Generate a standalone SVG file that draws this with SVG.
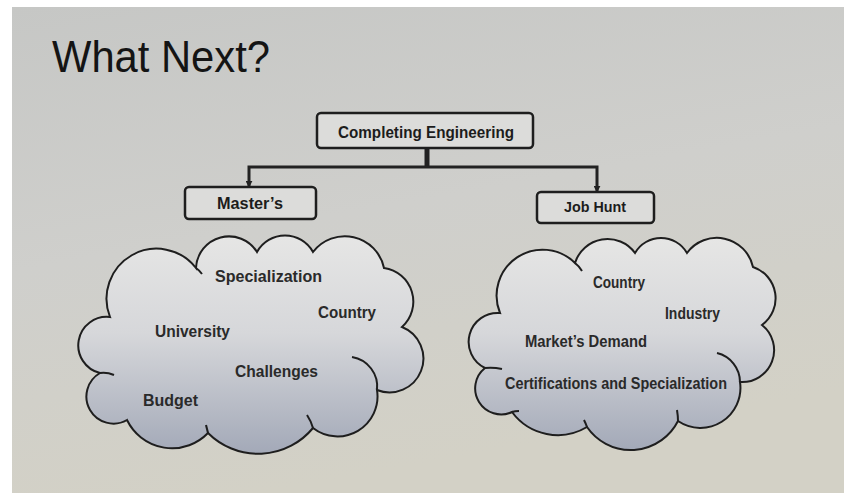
<svg xmlns="http://www.w3.org/2000/svg" width="844" height="493" viewBox="0 0 844 493">
<defs>
<linearGradient id="bg" x1="0" y1="0" x2="0.3" y2="1">
<stop offset="0" stop-color="#c6c7c5"/>
<stop offset="0.5" stop-color="#cfcfcc"/>
<stop offset="1" stop-color="#d3d1c6"/>
</linearGradient>
<linearGradient id="cloudFill" x1="0" y1="0" x2="0" y2="1">
<stop offset="0" stop-color="#e6e6e5"/>
<stop offset="0.45" stop-color="#d6d7da"/>
<stop offset="1" stop-color="#a3a9b8"/>
</linearGradient>
<marker id="arrow" viewBox="0 0 10 10" refX="9" refY="5" markerWidth="7" markerHeight="7" markerUnits="userSpaceOnUse" orient="auto">
<path d="M0,0 L10,5 L0,10 Z" fill="#222"/>
</marker>
<style>
.box{fill:#dcdcda;stroke:#1e1e1e;stroke-width:2.5}
.boxtxt{font-family:"Liberation Sans",Arial,sans-serif;fill:#1c1c1c;font-weight:bold}
.cloud{fill:url(#cloudFill);stroke:#1e1e1e;stroke-width:2}
.hook{fill:none;stroke:#1e1e1e;stroke-width:2}
.ctxt{font-family:"Liberation Sans",Arial,sans-serif;font-size:16px;font-weight:bold;fill:#2a2a2a}
.conn{fill:none;stroke:#222}
</style>
</defs>
<rect x="0" y="0" width="844" height="493" fill="#ffffff"/>
<rect x="12" y="7" width="832" height="486" fill="url(#bg)"/>

<text x="52" y="72" font-family="'Liberation Sans',Arial,sans-serif" font-size="44" fill="#141414" textLength="218" lengthAdjust="spacingAndGlyphs">What Next?</text>

<g id="connectors">
<line class="conn" x1="427" y1="149" x2="427" y2="167" stroke-width="5"/>
<polyline class="conn" points="249,187 249,167 597,167 597,192" stroke-width="3" fill="none"/>
<line class="conn" x1="249" y1="170" x2="249" y2="187" stroke-width="2" marker-end="url(#arrow)"/>
<line class="conn" x1="597" y1="170" x2="597" y2="192" stroke-width="2" marker-end="url(#arrow)"/>
</g>

<g id="completing">
<rect class="box" x="317" y="113" width="216" height="35" rx="4"/>
<text class="boxtxt" x="338" y="138" font-size="17" textLength="176" lengthAdjust="spacingAndGlyphs">Completing Engineering</text>
</g>

<g id="masters">
<rect class="box" x="185" y="187" width="131" height="32" rx="4"/>
<text class="boxtxt" x="217" y="209" font-size="17" textLength="66" lengthAdjust="spacingAndGlyphs">Master’s</text>
</g>

<g id="jobhunt">
<rect class="box" x="537" y="192" width="117" height="31" rx="4"/>
<text class="boxtxt" x="564" y="212" font-size="15" textLength="62" lengthAdjust="spacingAndGlyphs">Job Hunt</text>
</g>

<g id="cloud-masters">
<path class="cloud" d="M110 317 A50 50 0 0 1 196 268 A33 33 0 0 1 257 252 A32 32 0 0 1 313 252 A40 40 0 0 1 384 268 A34 34 0 0 1 402 327 A33 33 0 0 1 377 390 A40 40 0 0 1 313 428 A71 71 0 0 1 208 433 A50 50 0 0 1 127 420 A27 27 0 0 1 100 373 A28.5 28.5 0 0 1 110 317 Z"/>
<path class="hook" d="M196 268 Q199 270 202 274"/>
<path class="hook" d="M352 357 A30 30 0 0 1 377 390"/>
<path class="hook" d="M307 415 Q311 421 313 428"/>
<path class="hook" d="M206 425 Q207 429 208 433"/>
<path class="hook" d="M100 373 Q107 372 114 375"/>
<text class="ctxt" x="215" y="282" textLength="107" lengthAdjust="spacingAndGlyphs">Specialization</text>
<text class="ctxt" x="318" y="318" textLength="58" lengthAdjust="spacingAndGlyphs">Country</text>
<text class="ctxt" x="155" y="337" textLength="75" lengthAdjust="spacingAndGlyphs">University</text>
<text class="ctxt" x="235" y="377" textLength="83" lengthAdjust="spacingAndGlyphs">Challenges</text>
<text class="ctxt" x="143" y="406" textLength="55" lengthAdjust="spacingAndGlyphs">Budget</text>
</g>

<g id="cloud-jobhunt">
<path class="cloud" d="M500 313 A46 46 0 0 1 575 263 A34 34 0 0 1 635 253 A30 30 0 0 1 687 253 A37 37 0 0 1 753 267 A33 33 0 0 1 762 325 A32 32 0 0 1 740 382 A40 40 0 0 1 678 421 A53 53 0 0 1 587 427 A57 57 0 0 1 512 412 A26 26 0 0 1 485 368 A29 29 0 0 1 500 313 Z"/>
<path class="hook" d="M575 263 Q579 266 582 271"/>
<path class="hook" d="M717 353 A30 30 0 0 1 740 382"/>
<path class="hook" d="M677 410 Q678 416 678 421"/>
<path class="hook" d="M584 420 Q586 424 587 427"/>
<path class="hook" d="M512 412 Q515 411 519 411"/>
<path class="hook" d="M485 368 Q493 367 502 369"/>
<text class="ctxt" x="593" y="288" textLength="52" lengthAdjust="spacingAndGlyphs">Country</text>
<text class="ctxt" x="665" y="319" textLength="55" lengthAdjust="spacingAndGlyphs">Industry</text>
<text class="ctxt" x="525" y="347" textLength="122" lengthAdjust="spacingAndGlyphs">Market’s Demand</text>
<text class="ctxt" x="505" y="389" textLength="222" lengthAdjust="spacingAndGlyphs">Certifications and Specialization</text>
</g>
</svg>
